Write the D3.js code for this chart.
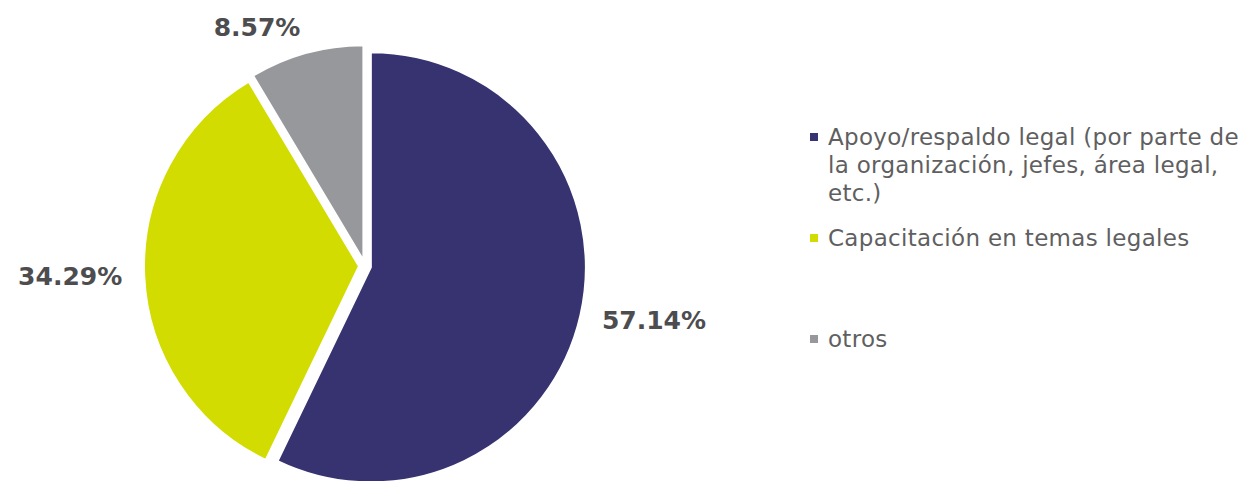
<!DOCTYPE html>
<html>
<head>
<meta charset="utf-8">
<script src="https://cdn.jsdelivr.net/npm/d3@7"></script>
<style>
  html, body { margin: 0; padding: 0; background: #fff; }
  svg { display: block; }
</style>
</head>
<body>
<div id="chart"></div>
<script>
// data
var categories = ["Apoyo/respaldo legal (por parte de la organización, jefes, área legal, etc.)", "Capacitación en temas legales", "otros"];
var values = [57.14, 34.29, 8.57];
var valueLabels = ["57.14%", "34.29%", "8.57%"];
var colors = ["#363370", "#d3dc00", "#97989c"];

var w = 1241, h = 481;
var cx = 365, cy = 266, radius = 215;
var explode = 6;

var svg = d3.select("#chart").append("svg")
  .attr("width", w)
  .attr("height", h);

var pie = d3.pie().sort(null).value(function(d) { return d; });
var arcs = pie(values);

var arc = d3.arc().innerRadius(0).outerRadius(radius);

var pieG = svg.append("g").attr("transform", "translate(" + cx + "," + cy + ")");

// 切片
pieG.selectAll("path")
  .data(arcs)
  .enter()
  .append("path")
  .attr("d", arc)
  .attr("fill", function(d, i) { return colors[i]; })
  .attr("stroke", "#fff")
  .attr("stroke-width", 2)
  .attr("transform", function(d) {
    var a = (d.startAngle + d.endAngle) / 2;
    return "translate(" + (Math.sin(a) * explode) + "," + (-Math.cos(a) * explode) + ")";
  });

// 数据标签 (outside end)
var labelR = radius + explode + 22;
pieG.selectAll("text.val")
  .data(arcs)
  .enter()
  .append("text")
  .attr("class", "val")
  .attr("x", function(d) { return Math.sin((d.startAngle + d.endAngle) / 2) * labelR; })
  .attr("y", function(d) {
    var c = -Math.cos((d.startAngle + d.endAngle) / 2);
    return c * labelR + (c < -0.5 ? 4 : 0);
  })
  .attr("text-anchor", function(d) {
    var s = Math.sin((d.startAngle + d.endAngle) / 2);
    return s > 0.2 ? "start" : (s < -0.2 ? "end" : "middle");
  })
  .attr("dominant-baseline", function(d) {
    var c = -Math.cos((d.startAngle + d.endAngle) / 2);
    return c < -0.5 ? "alphabetic" : "central";
  })
  .style("font-family", "'DejaVu Sans', sans-serif")
  .style("font-weight", "bold")
  .style("font-size", "25px")
  .style("fill", "#4d4d4f")
  .text(function(d, i) { return valueLabels[i]; });

// 图例
var legendX = 810;
var yLegend = d3.scalePoint().domain(categories).range([145, 347]);
var legend = svg.append("g");
var maxW = 420;

categories.forEach(function(name, i) {
  var y = yLegend(name);
  legend.append("rect")
    .attr("x", legendX)
    .attr("y", y - 12)
    .attr("width", 8)
    .attr("height", 8)
    .attr("fill", colors[i]);

  var t = legend.append("text")
    .attr("x", legendX + 18)
    .attr("y", y)
    .style("font-family", "'DejaVu Sans', sans-serif")
    .style("font-size", "23px")
    .style("letter-spacing", "0.3px")
    .style("fill", "#5f5f61");

  // 按宽度换行
  var words = name.split(" ");
  var line = [];
  var tspan = t.append("tspan").attr("x", legendX + 18).attr("dy", 0);
  words.forEach(function(word) {
    line.push(word);
    tspan.text(line.join(" "));
    if (tspan.node().getComputedTextLength() > maxW && line.length > 1) {
      line.pop();
      tspan.text(line.join(" "));
      line = [word];
      tspan = t.append("tspan").attr("x", legendX + 18).attr("dy", 28).text(word);
    }
  });
});
</script>
</body>
</html>
